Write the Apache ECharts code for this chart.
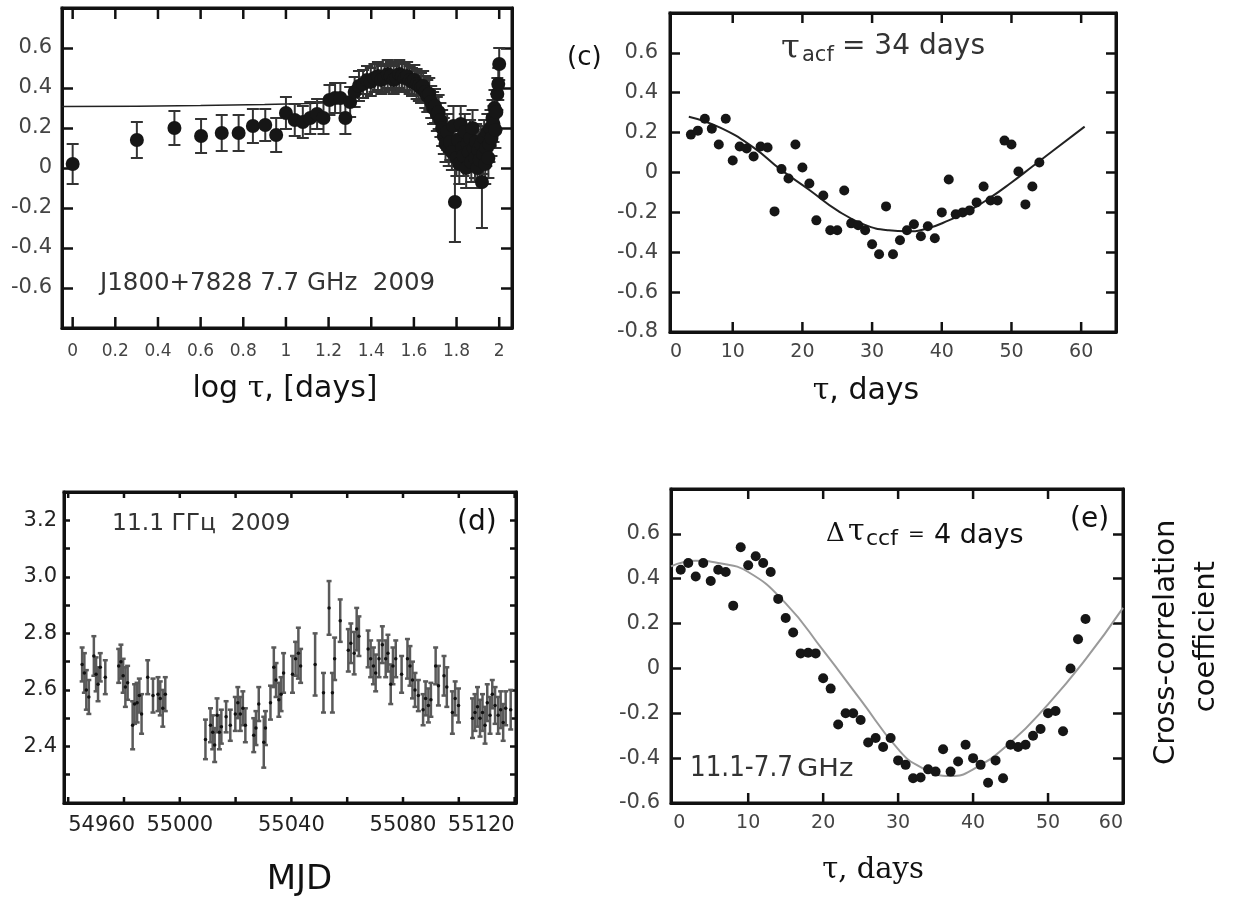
<!DOCTYPE html>
<html>
<head>
<meta charset="utf-8">
<title>J1800+7828 correlation functions</title>
<script src="https://cdn.jsdelivr.net/npm/echarts@6/dist/echarts.min.js"></script>
<style>
  html, body { margin: 0; padding: 0; background: #fff; }
  #chart { width: 1235px; height: 897px; }
</style>
</head>
<body>
<div id="chart"></div>
<script>
// panel (b): correlation vs log tau, 7.7 GHz 2009
const tauA = [1,2,3,4,5,6,7,8,9,10,11,12,13,14,15,16,17,18,19,20,
  21,22,23,24,25,26,27,28,29,30,31,32,33,34,35,36,37,38,39,40,
  41,42,43,44,45,46,47,48,49,50,51,52,53,54,55,56,57,58,59,60,
  61,62,63,64,65,66,67,68,69,70,71,72,73,74,75,76,77,78,79,80,
  81,82,83,84,85,86,87,88,89,90,91,92,93,94,95,96,97,98,99,100];
const corrA = [0.02,0.14,0.20,0.16,0.175,0.175,0.21,0.215,0.165,0.275,
  0.24,0.23,0.25,0.27,0.25,0.34,0.35,0.35,0.25,0.33,
  0.38,0.41,0.42,0.44,0.43,0.45,0.46,0.44,0.45,0.47,
  0.46,0.44,0.45,0.47,0.46,0.45,0.46,0.44,0.43,0.44,
  0.42,0.41,0.40,0.41,0.38,0.36,0.37,0.33,0.30,0.31,
  0.27,0.28,0.24,0.20,0.16,0.12,0.18,0.10,0.13,0.08,
  0.21,-0.17,0.05,0.14,0.02,0.22,0.10,0.06,0.18,0.00,
  0.12,0.08,0.15,0.03,0.20,0.10,0.05,0.13,0.00,0.09,
  0.04,0.12,-0.07,0.07,0.15,0.02,0.10,0.18,0.05,0.12,
  0.20,0.15,0.25,0.22,0.30,0.19,0.28,0.37,0.42,0.52];
const errA = [0.10,0.09,0.085,0.085,0.09,0.09,0.085,0.08,0.085,0.08,
  0.08,0.08,0.08,0.075,0.08,0.075,0.075,0.075,0.08,0.075,
  0.075,0.075,0.07,0.07,0.07,0.07,0.07,0.07,0.07,0.07,
  0.07,0.07,0.07,0.07,0.07,0.07,0.07,0.07,0.07,0.075,
  0.075,0.075,0.075,0.075,0.08,0.08,0.08,0.08,0.08,0.085,
  0.085,0.085,0.085,0.09,0.09,0.09,0.09,0.09,0.09,0.09,
  0.10,0.20,0.09,0.09,0.10,0.09,0.09,0.10,0.09,0.10,
  0.09,0.09,0.09,0.10,0.09,0.09,0.10,0.09,0.10,0.09,
  0.10,0.09,0.23,0.10,0.09,0.10,0.09,0.09,0.10,0.09,
  0.09,0.09,0.09,0.09,0.09,0.09,0.09,0.08,0.08,0.08];
const fitAx = [-0.05, 0.3, 0.6, 0.9, 1.1, 1.3];
const fitAy = [0.307, 0.309, 0.312, 0.317, 0.322, 0.33];
const ticksA = [0, 0.2, 0.4, 0.6, 0.8, 1, 1.2, 1.4, 1.6, 1.8, 2];

// panel (c): autocorrelation
const tauC = [4,5,6,7,8,9,10,11,12,13,14,15,16,17,18,19,20,21,22,23,24,25,26,27,28,29,
  30,31,32,33,34,35,36,37,38,39,40,41,42,43,44,45,46,47,48,49,50,51,52,53,54];
const acfC = [0.19,0.21,0.27,0.22,0.14,0.27,0.06,0.13,0.12,0.08,0.13,0.125,-0.195,0.017,-0.03,0.14,
  0.025,-0.055,-0.24,-0.115,-0.29,-0.29,-0.09,-0.255,-0.265,-0.29,-0.36,-0.41,-0.17,-0.41,
  -0.34,-0.29,-0.26,-0.32,-0.27,-0.33,-0.20,-0.035,-0.21,-0.20,-0.19,-0.15,-0.07,-0.14,-0.14,
  0.16,0.14,0.005,-0.16,-0.07,0.05];
const fitCx = [3.7, 8.2, 13, 16.8, 21.1, 25, 28.8, 32.4, 35, 38, 41, 44, 47, 50, 53, 56, 60.5];
const fitCy = [0.28, 0.225, 0.125, 0.017, -0.09, -0.19, -0.26, -0.29, -0.295, -0.28, -0.24, -0.19, -0.125, -0.05, 0.03, 0.11, 0.23];
const ticksC = [10, 20, 30, 40, 50, 60];
const labelsC = [1, 10, 20, 30, 40, 50, 60];

// panel (d): 11.1 GHz light curve
const mjdD = [54965.0,54965.8,54966.5,54967.4,54969.2,54970.0,54970.7,54971.5,54973.3,
  54978.1,54978.9,54979.7,54980.5,54981.3,54983.1,54983.8,54984.7,54985.5,54986.3,
  54988.5,54990.4,54992.2,54993.0,54993.9,54994.8,
  55009.2,55011.0,55011.8,55012.5,55013.35,55014.2,55014.9,55016.6,55018.1,55019.9,
  55020.8,55021.7,55022.6,55023.5,55026.5,55027.3,55028.3,55030.1,55030.7,55032.5,
  55033.7,55034.5,55035.5,55036.3,55037.2,55040.4,55041.5,55042.5,55043.3,55048.5,
  55051.5,55053.5,55054.7,55055.5,55057.5,55060.4,55061.3,55062.5,55063.4,55064.2,
  55067.5,55068.4,55069.4,55070.2,55071.4,55072.6,55073.8,55074.6,55075.6,55076.4,
  55077.4,55079.5,55081.6,55082.5,55083.4,55084.3,55085.5,55087.2,55088.1,55089.1,
  55090.0,55091.7,55092.7,55094.7,55095.7,55097.7,55098.7,55099.9,55104.9,55105.8,
  55106.7,55107.6,55108.5,55109.4,55110.2,55111.2,55112.0,55113.0,55114.1,55115.0,
  55115.9,55116.8,55118.6];
const fluxD = [2.69,2.66,2.60,2.575,2.72,2.655,2.62,2.68,2.645,
  2.685,2.70,2.65,2.61,2.625,2.475,2.55,2.555,2.58,2.515,
  2.645,2.58,2.585,2.57,2.535,2.585,
  2.425,2.475,2.45,2.405,2.51,2.45,2.47,2.505,2.475,2.515,
  2.555,2.515,2.535,2.475,2.44,2.465,2.55,2.415,2.465,2.555,
  2.68,2.635,2.565,2.585,2.66,2.655,2.71,2.73,2.685,2.69,
  2.59,2.89,2.59,2.71,2.845,2.74,2.765,2.73,2.815,2.79,
  2.745,2.71,2.685,2.66,2.71,2.76,2.71,2.73,2.62,2.685,
  2.71,2.655,2.71,2.685,2.635,2.60,2.58,2.53,2.57,2.545,
  2.565,2.685,2.615,2.65,2.61,2.52,2.57,2.545,2.50,2.52,
  2.54,2.50,2.52,2.475,2.555,2.51,2.585,2.545,2.51,2.53,
  2.485,2.535,2.53];
const errD = [0.06,0.07,0.07,0.06,0.07,0.06,0.06,0.05,0.06,
  0.06,0.06,0.06,0.07,0.06,0.085,0.07,0.07,0.06,0.07,
  0.06,0.06,0.06,0.06,0.065,0.06,
  0.07,0.06,0.06,0.06,0.06,0.06,0.06,0.055,0.055,0.06,
  0.055,0.06,0.06,0.06,0.06,0.06,0.06,0.09,0.06,0.06,
  0.07,0.06,0.06,0.06,0.07,0.065,0.06,0.09,0.06,0.11,
  0.07,0.095,0.07,0.075,0.075,0.075,0.07,0.075,0.075,0.07,
  0.065,0.065,0.065,0.065,0.065,0.065,0.065,0.065,0.07,0.065,
  0.065,0.065,0.07,0.07,0.065,0.06,0.055,0.055,0.06,0.06,
  0.06,0.065,0.07,0.07,0.07,0.075,0.06,0.06,0.07,0.065,
  0.07,0.065,0.065,0.065,0.065,0.065,0.05,0.065,0.065,0.065,
  0.065,0.06,0.07];
const ticksD = [54960, 54980, 55000, 55020, 55040, 55060, 55080, 55100, 55120];
const labelsD = [54960, 55000, 55040, 55080, 55120];

// panel (e): cross-correlation 11.1-7.7 GHz
const tauE = [1,2,3,4,5,6,7,8,9,10,11,12,13,14,15,16,17,18,19,20,21,22,23,24,25,26,27,28,
  29,30,31,32,33,34,35,36,37,38,39,40,41,42,43,44,45,46,47,48,49,50,51,52,53,54,55];
const ccfE = [0.44,0.47,0.41,0.47,0.39,0.44,0.43,0.28,0.54,0.46,0.50,0.47,0.43,0.31,0.225,0.16,
  0.067,0.07,0.067,-0.044,-0.09,-0.25,-0.20,-0.20,-0.23,-0.33,-0.31,-0.35,-0.31,-0.41,
  -0.43,-0.49,-0.486,-0.45,-0.46,-0.36,-0.46,-0.415,-0.34,-0.40,-0.43,-0.51,-0.41,-0.49,
  -0.34,-0.35,-0.34,-0.30,-0.27,-0.20,-0.19,-0.28,0.00,0.13,0.22];
const fitEx = [-0.3, 3, 6, 10, 15, 20, 25, 30, 33, 37, 40, 45, 50, 55, 60];
const fitEy = [0.455, 0.48, 0.47, 0.43, 0.29, 0.08, -0.14, -0.36, -0.44, -0.48, -0.45, -0.33, -0.16, 0.04, 0.27];
const ticksE = [10, 20, 30, 40, 50];
const labelsE = [0, 10, 20, 30, 40, 50, 60];

const chart = echarts.init(document.getElementById('chart'));

const SANS = 'DejaVu Sans';
const SERIF = 'DejaVu Serif';
const fmt = v => String(parseFloat(v.toFixed(2)));

const grids = [
  { left: 62, top: 8, width: 450, height: 320 },
  { left: 670, top: 13, width: 446, height: 319 },
  { left: 64, top: 492, width: 452, height: 311 },
  { left: 671, top: 489, width: 452, height: 314 },
].map(g => Object.assign(g, { show: true, borderColor: '#111', borderWidth: 3 }));

const xAxes = [];
const yAxes = [];

function tick(len) {
  return { show: true, inside: true, length: len, lineStyle: { color: '#111', width: 2.5 } };
}

function frameLine() {
  return { show: true, onZero: false, lineStyle: { color: '#111', width: 3 } };
}

function addAxes(g, xa, ya) {
  const xBase = { type: 'value', gridIndex: g, min: xa.min, max: xa.max, splitLine: { show: false }, axisTick: { show: false } };
  const yBase = { type: 'value', gridIndex: g, min: ya.min, max: ya.max, interval: ya.interval, splitLine: { show: false } };
  xAxes.push(Object.assign({}, xBase, {
    position: 'bottom',
    axisLine: frameLine(),
    axisLabel: Object.assign({
      customValues: xa.labels, fontFamily: SANS, fontSize: xa.fontSize, color: xa.color,
      margin: xa.margin, formatter: xa.formatter || fmt,
    }, xa.extra || {}),
  }));
  xAxes.push(Object.assign({}, xBase, { position: 'top', axisLine: frameLine(), axisLabel: { show: false } }));
  yAxes.push(Object.assign({}, yBase, {
    position: 'left',
    axisLine: frameLine(),
    axisTick: tick(ya.tick),
    axisLabel: { fontFamily: SANS, fontSize: ya.fontSize, color: ya.color, margin: ya.margin, formatter: ya.formatter },
  }));
  yAxes.push(Object.assign({}, yBase, {
    position: 'right', axisLine: frameLine(), axisTick: tick(ya.tick), axisLabel: { show: false },
  }));
}

addAxes(0,
  { min: -0.05, max: 2.06, labels: ticksA, fontSize: 17, color: '#444', margin: 15 },
  { min: -0.8, max: 0.8, interval: 0.2, tick: 11, fontSize: 21, color: '#444', margin: 10,
    formatter: v => (Math.abs(v) > 0.7 ? '' : fmt(v)) });
addAxes(1,
  { min: 1, max: 65, labels: labelsC, fontSize: 19, color: '#444', margin: 11,
    formatter: v => (v < 5 ? '0' : String(v)), extra: { alignMinLabel: 'left' } },
  { min: -0.8, max: 0.8, interval: 0.2, tick: 10, fontSize: 21, color: '#444', margin: 12,
    formatter: v => (v > 0.7 ? '' : fmt(v)) });
addAxes(2,
  { min: 54958.5, max: 55120.5, labels: labelsD, fontSize: 21, color: '#222', margin: 12,
    formatter: v => String(v), extra: { alignMinLabel: 'left', alignMaxLabel: 'right' } },
  { min: 2.2, max: 3.3, interval: 0.1, tick: 6, fontSize: 21, color: '#222', margin: 7,
    formatter: v => {
      const k = Math.round(v * 10);
      return (k % 2 === 0 && k >= 24 && k <= 32) ? (k / 10).toFixed(1) : '';
    } });
addAxes(3,
  { min: -0.3, max: 60, labels: labelsE, fontSize: 19, color: '#444', margin: 11,
    formatter: v => String(v), extra: { alignMinLabel: 'left', alignMaxLabel: 'right' } },
  { min: -0.6, max: 0.8, interval: 0.2, tick: 10, fontSize: 21, color: '#444', margin: 11,
    formatter: v => (v > 0.7 ? '' : fmt(v)) });

function errorBars(cap, color, width) {
  return function (params, api) {
    const x = api.value(0);
    const lo = api.coord([x, api.value(1)]);
    const hi = api.coord([x, api.value(2)]);
    const st = { stroke: color, lineWidth: width };
    return {
      type: 'group',
      children: [
        { type: 'line', shape: { x1: lo[0], y1: lo[1], x2: hi[0], y2: hi[1] }, style: st },
        { type: 'line', shape: { x1: lo[0] - cap, y1: lo[1], x2: lo[0] + cap, y2: lo[1] }, style: st },
        { type: 'line', shape: { x1: hi[0] - cap, y1: hi[1], x2: hi[0] + cap, y2: hi[1] }, style: st },
      ],
    };
  };
}

// inward x-axis tick marks on the bottom and top frame, placed by the x scale
function xTicks(len) {
  return function (params, api) {
    const cs = params.coordSys;
    const x = api.coord([api.value(0), api.value(1)])[0];
    const st = { stroke: '#111', lineWidth: 2.5 };
    const b = cs.y + cs.height;
    return {
      type: 'group',
      children: [
        { type: 'line', shape: { x1: x, y1: b, x2: x, y2: b - len }, style: st },
        { type: 'line', shape: { x1: x, y1: cs.y, x2: x, y2: cs.y + len }, style: st },
      ],
    };
  };
}

const on = g => ({ xAxisIndex: 2 * g, yAxisIndex: 2 * g });
const tickSeries = (g, vals, yRef, len) => Object.assign({
  type: 'custom', renderItem: xTicks(len), encode: { x: 0 }, clip: false, silent: true, z: 5,
  data: vals.map(v => [v, yRef]),
}, on(g));

const series = [
  // (b)
  Object.assign({
    type: 'line', data: fitAx.map((x, i) => [x, fitAy[i]]), showSymbol: false, symbol: 'none',
    lineStyle: { color: '#222', width: 1.5 }, z: 1,
  }, on(0)),
  Object.assign({
    type: 'custom', renderItem: errorBars(6, '#333', 2), encode: { x: 0, y: [1, 2] }, z: 2,
    data: tauA.map((t, i) => [Math.log10(t), corrA[i] - errA[i], corrA[i] + errA[i]]),
  }, on(0)),
  Object.assign({
    type: 'scatter', symbolSize: 14, itemStyle: { color: '#161616', opacity: 1 }, z: 3,
    data: tauA.map((t, i) => [Math.log10(t), corrA[i]]),
  }, on(0)),
  tickSeries(0, ticksA, 0, 11),
  // (c)
  Object.assign({
    type: 'line', data: fitCx.map((x, i) => [x, fitCy[i]]), smooth: true, showSymbol: false, symbol: 'none',
    lineStyle: { color: '#222', width: 2 }, z: 1,
  }, on(1)),
  Object.assign({
    type: 'scatter', symbolSize: 10, itemStyle: { color: '#161616', opacity: 1 }, z: 3,
    data: tauC.map((t, i) => [t, acfC[i]]),
  }, on(1)),
  tickSeries(1, ticksC, 0, 10),
  // (d)
  Object.assign({
    type: 'custom', renderItem: errorBars(2.5, '#5a5a5a', 2.5), encode: { x: 0, y: [1, 2] }, z: 2,
    data: mjdD.map((m, i) => [m, fluxD[i] - errD[i], fluxD[i] + errD[i]]),
  }, on(2)),
  Object.assign({
    type: 'scatter', symbolSize: 3.5, itemStyle: { color: '#111', opacity: 1 }, z: 3,
    data: mjdD.map((m, i) => [m, fluxD[i]]),
  }, on(2)),
  tickSeries(2, ticksD, 2.6, 6),
  // (e)
  Object.assign({
    type: 'line', data: fitEx.map((x, i) => [x, fitEy[i]]), smooth: true, showSymbol: false, symbol: 'none',
    lineStyle: { color: '#9a9a9a', width: 2 }, z: 1,
  }, on(3)),
  Object.assign({
    type: 'scatter', symbolSize: 10, itemStyle: { color: '#161616', opacity: 1 }, z: 3,
    data: tauE.map((t, i) => [t, ccfE[i]]),
  }, on(3)),
  tickSeries(3, ticksE, 0, 10),
];

function txt(x, y, text, fontSize, opts) {
  return {
    type: 'text', x: x, y: y, z: 10,
    scaleX: (opts && opts.scaleX) || 1,
    rotation: (opts && opts.rotation) || 0,
    style: Object.assign({
      text: text, fontFamily: SANS, fontSize: fontSize, fill: '#111',
      align: 'left', verticalAlign: 'middle',
    }, (opts && opts.style) || {}),
  };
}

const graphic = [
  // (b)
  txt(100, 283.5, 'J1800+7828 7.7 GHz  2009', 24.5, { style: { fill: '#333' } }),
  txt(285, 389.5, '{s|log }{t|τ}{s|, [days]}', 30, { style: {
    align: 'center',
    rich: { s: { fontFamily: SANS, fontSize: 30, fill: '#111' }, t: { fontFamily: SERIF, fontSize: 30, fill: '#111' } },
  } }),
  // (c)
  txt(567, 58, '(c)', 26),
  txt(781, 49.5, 'τ', 34, { style: { fontFamily: SERIF, fill: '#333' } }),
  txt(802, 55.5, 'acf', 21, { style: { fill: '#333' } }),
  txt(842, 46.5, '= 34 days', 28, { style: { fill: '#333' } }),
  txt(866, 391.5, '{t|τ}{s|, days}', 30, { style: {
    align: 'center',
    rich: { s: { fontFamily: SANS, fontSize: 30, fill: '#111' }, t: { fontFamily: SERIF, fontSize: 30, fill: '#111' } },
  } }),
  // (d)
  txt(112, 523.5, '11.1 ГГц  2009', 23.4, { style: { fill: '#333' } }),
  txt(457, 523, '(d)', 28),
  txt(299.5, 880, 'MJD', 34, { style: { align: 'center' } }),
  // (e)
  txt(826, 534, 'Δ', 26, { style: { fontFamily: SERIF } }),
  txt(848, 532.5, 'τ', 30, { style: { fontFamily: SERIF } }),
  txt(866, 539, 'ccf', 22),
  txt(908, 534.5, '=', 20),
  txt(934, 535.5, '4 days', 27),
  txt(1070, 520, '(e)', 28),
  txt(690, 768.5, '11.1-7.7', 28, { scaleX: 0.88, style: { fill: '#333' } }),
  txt(797, 769.5, 'GHz', 25, { scaleX: 1.1, style: { fill: '#333' } }),
  txt(873, 870, 'τ, days', 29, { style: { fontFamily: SERIF, align: 'center' } }),
  txt(1166.8, 642.3, 'Cross-correlation', 29, { rotation: Math.PI / 2, style: { align: 'center' } }),
  txt(1206.5, 636.7, 'coefficient', 29, { rotation: Math.PI / 2, style: { align: 'center' } }),
];

chart.setOption({
  animation: false,
  backgroundColor: '#fff',
  grid: grids,
  xAxis: xAxes,
  yAxis: yAxes,
  series: series,
  graphic: graphic,
});
</script>
</body>
</html>
